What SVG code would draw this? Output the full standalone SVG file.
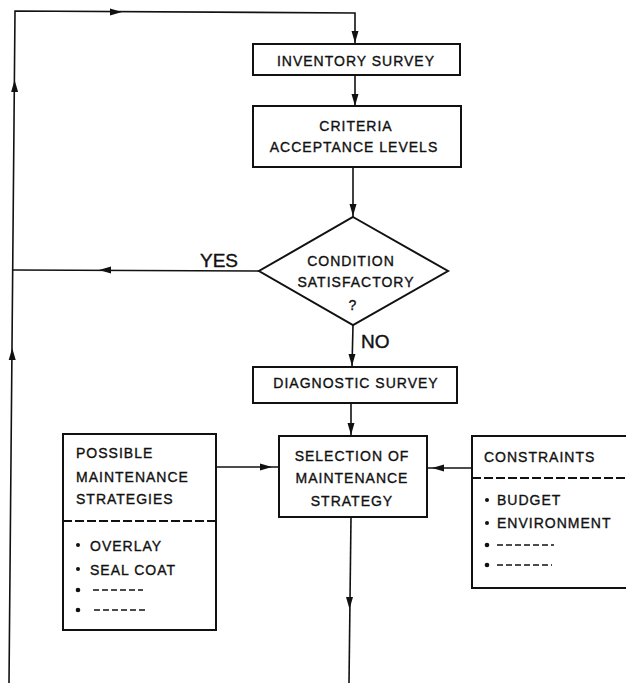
<svg xmlns="http://www.w3.org/2000/svg" xmlns:xlink="http://www.w3.org/1999/xlink" width="626" height="683" viewBox="0 0 626 683">
<style>
.box{fill:#fff;stroke:#111;stroke-width:2}
.ln{fill:none;stroke:#111;stroke-width:1.6}
.dash{fill:none;stroke:#111;stroke-width:1.8;stroke-dasharray:9 3}
.sdash{fill:none;stroke:#111;stroke-width:1.5;stroke-dasharray:6 3}
.t{font-family:"Liberation Sans",Arial,sans-serif;font-size:14px;letter-spacing:1px;fill:#111;stroke:#111;stroke-width:0.35}
.c{text-anchor:middle}
.big{font-family:"Liberation Sans",Arial,sans-serif;font-size:19px;fill:#111;stroke:#111;stroke-width:0.4}
.ah{fill:#111}
.dot{fill:#111}
</style>
<defs>
<path id="ah" d="M0,0 L-12,-3.5 L-12,3.5 Z"/>
</defs>
<rect width="626" height="683" fill="#fff"/>
<g id="connectors">
<path class="ln" d="M9,683 L15,11 L355,13 L355,44"/>
<path class="ln" d="M355,75 L355,106"/>
<path class="ln" d="M353,167 L353,217"/>
<path class="ln" d="M259,271 L13,270"/>
<path class="ln" d="M353,325 L352,367"/>
<path class="ln" d="M351,403 L351,436"/>
<path class="ln" d="M216,467 L279,467"/>
<path class="ln" d="M472,468 L427,468"/>
<path class="ln" d="M351,517 L349,683"/>
<use xlink:href="#ah" class="ah" transform="translate(122,12)"/>
<use xlink:href="#ah" class="ah" transform="translate(355,43) rotate(90)"/>
<use xlink:href="#ah" class="ah" transform="translate(355,106) rotate(90)"/>
<use xlink:href="#ah" class="ah" transform="translate(353,216) rotate(90)"/>
<use xlink:href="#ah" class="ah" transform="translate(99,270) rotate(180)"/>
<use xlink:href="#ah" class="ah" transform="translate(14.6,80) rotate(-90)"/>
<use xlink:href="#ah" class="ah" transform="translate(12.2,348) rotate(-90)"/>
<use xlink:href="#ah" class="ah" transform="translate(352,366) rotate(90)"/>
<use xlink:href="#ah" class="ah" transform="translate(351,435) rotate(90)"/>
<use xlink:href="#ah" class="ah" transform="translate(272,467)"/>
<use xlink:href="#ah" class="ah" transform="translate(432,468) rotate(180)"/>
<use xlink:href="#ah" class="ah" transform="translate(349.5,609) rotate(90)"/>
<text class="big" x="200" y="267">YES</text>
<text class="big" x="361" y="348">NO</text>
</g>
<g id="inventory">
<rect class="box" x="253" y="44" width="207" height="31"/>
<text class="t c" x="356" y="66">INVENTORY SURVEY</text>
</g>
<g id="criteria">
<rect class="box" x="253" y="106" width="208" height="61"/>
<text class="t c" x="356" y="131">CRITERIA</text>
<text class="t c" x="354" y="152">ACCEPTANCE LEVELS</text>
</g>
<g id="condition">
<polygon class="box" points="353,217 448,271 353,325 259,271"/>
<text class="t c" x="351" y="266">CONDITION</text>
<text class="t c" x="356" y="287">SATISFACTORY</text>
<text class="t c" x="353" y="310">?</text>
</g>
<g id="diagnostic">
<rect class="box" x="253" y="367" width="204" height="36"/>
<text class="t c" x="356" y="388">DIAGNOSTIC SURVEY</text>
</g>
<g id="selection">
<rect class="box" x="279" y="436" width="148" height="81"/>
<text class="t c" x="352" y="461">SELECTION OF</text>
<text class="t c" x="352" y="483">MAINTENANCE</text>
<text class="t c" x="352" y="506">STRATEGY</text>
</g>
<g id="possible">
<rect class="box" x="63" y="434" width="153" height="196"/>
<path class="dash" d="M63,521 L216,521"/>
<text class="t" x="76" y="458">POSSIBLE</text>
<text class="t" x="76" y="482">MAINTENANCE</text>
<text class="t" x="76" y="504">STRATEGIES</text>
<circle class="dot" cx="78" cy="545" r="2"/>
<text class="t" x="90" y="551">OVERLAY</text>
<circle class="dot" cx="78" cy="569" r="2"/>
<text class="t" x="90" y="575">SEAL COAT</text>
<circle class="dot" cx="78" cy="590" r="2.3"/>
<path class="sdash" d="M93,590 L143,590"/>
<circle class="dot" cx="78" cy="610" r="2.3"/>
<path class="sdash" d="M94,610 L148,610"/>
</g>
<g id="constraints">
<rect class="box" x="472" y="436" width="170" height="152"/>
<path class="dash" d="M472,478 L626,478"/>
<text class="t" x="484" y="462">CONSTRAINTS</text>
<circle class="dot" cx="487" cy="500" r="2"/>
<text class="t" x="497" y="505">BUDGET</text>
<circle class="dot" cx="487" cy="523" r="2"/>
<text class="t" x="497" y="528">ENVIRONMENT</text>
<circle class="dot" cx="487" cy="545" r="2.3"/>
<path class="sdash" d="M497,545 L554,545"/>
<circle class="dot" cx="487" cy="565" r="2.3"/>
<path class="sdash" d="M497,565 L552,565"/>
</g>
</svg>
